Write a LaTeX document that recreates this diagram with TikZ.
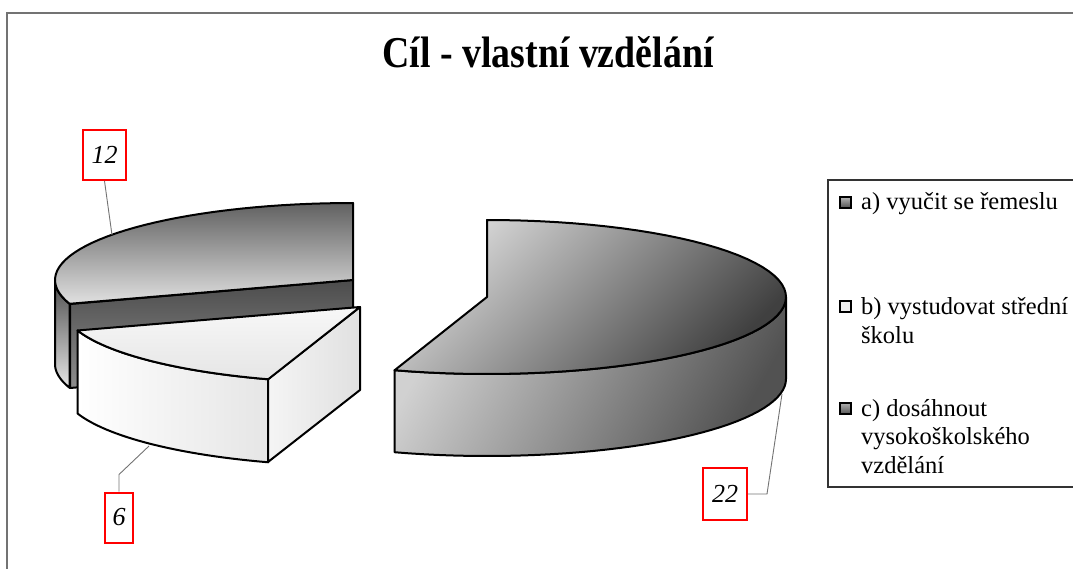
\documentclass[tikz,border=0pt]{standalone}
\usepackage{fontspec}
\setmainfont{Liberation Serif}
\usepackage{graphicx}

\begin{document}
\begin{tikzpicture}[x=1pt, y=-1pt,
    edge/.style={draw=black, line width=2pt, line join=round},
    valbox/.style={draw=red, line width=2pt, fill=white, inner sep=0pt,
        minimum width=43pt, minimum height=50pt,
        font=\fontsize{26}{26}\selectfont\itshape},
    leader/.style={draw=black!55, line width=0.9pt},
    key/.style={draw=black, line width=2pt, minimum size=11pt, inner sep=0pt},
    keytext/.style={anchor=base west, align=left, inner sep=0pt,
        font=\fontsize{24.5}{28.5}\selectfont},
    ]
    \clip (0,0) rectangle (1073,569);

    % chart frame
    \draw[black!55, line width=2pt] (7,580) -- (7,13) -- (1090,13);

    \node[anchor=base, font=\fontsize{44}{44}\selectfont\bfseries] (title) at (548,68)
        {\scalebox{0.86}[1]{Cíl - vlastní vzdělání}};

    % slice a) 12
    \path[edge, top color=black!70, bottom color=black!10]
        plot[domain=180:198] ({353+298*cos(\x)},{280-77*sin(\x)}) --
        plot[domain=198:180] ({353+298*cos(\x)},{364-77*sin(\x)}) -- cycle;
    \path[edge, top color=black!70, bottom color=black!45]
        (353,280) -- (70,304) -- (70,388) -- (353,364) -- cycle;
    \path[edge, top color=black!62, bottom color=black!12]
        (353,280) -- plot[domain=90:198, samples=40] ({353+298*cos(\x)},{280-77*sin(\x)}) -- cycle;

    % slice b) 6
    \path[edge, left color=white, right color=black!10]
        plot[domain=198:252, samples=30] ({360+297*cos(\x)},{307-76*sin(\x)}) --
        plot[domain=252:198, samples=30] ({360+297*cos(\x)},{390-76*sin(\x)}) -- cycle;
    \path[edge, left color=black!4, right color=black!12]
        (360,307) -- (268,379) -- (268,462) -- (360,390) -- cycle;
    \path[edge, top color=black!3, bottom color=black!10]
        (360,307) -- plot[domain=198:252, samples=30] ({360+297*cos(\x)},{307-76*sin(\x)}) -- cycle;

    % slice c) 22
    \path[edge, top color=black!18, bottom color=black!68, shading angle=60]
        plot[domain=-108:0, samples=40] ({487+299*cos(\x)},{297-77*sin(\x)}) --
        plot[domain=0:-108, samples=40] ({487+299*cos(\x)},{379-77*sin(\x)}) -- cycle;
    \path[edge, top color=black!15, bottom color=black!75, shading angle=45]
        (487,297) -- plot[domain=90:-108, samples=60] ({487+299*cos(\x)},{297-77*sin(\x)}) -- cycle;

    % value labels
    \coordinate (a mid) at (112,235);
    \coordinate (b mid) at (149,446);
    \coordinate (c mid) at (782,394);
    \node[valbox] (l12) at (104.5,155) {12};
    \node[valbox, minimum width=28pt] (l6) at (119,517.5) {6};
    \node[valbox, minimum width=44pt, minimum height=52pt] (l22) at (725,494) {22};
    \draw[leader] (l12.south) -- (a mid);
    \draw[leader] (l6.north) -- ++(0,-17) -- (b mid);
    \draw[leader] (l22.east) -- ++(19,0) -- (c mid);

    % legend
    \draw[black!80, line width=1.2pt] (828,180) rectangle (1100,487);
    \node[key, top color=black!30, bottom color=black!70] (ka) at (845,203) {};
    \node[key, fill=black!6] (kb) at (845,306) {};
    \node[key, top color=black!30, bottom color=black!65] (kc) at (845,408) {};
    \node[keytext] (ta) at (861,210) {a) vyučit se řemeslu};
    \node[keytext] (tb) at (861,343) {b) vystudovat střední\\školu};
    \node[keytext] (tc) at (861,473) {c) dosáhnout\\vysokoškolského\\vzdělání};
\end{tikzpicture}
\end{document}
